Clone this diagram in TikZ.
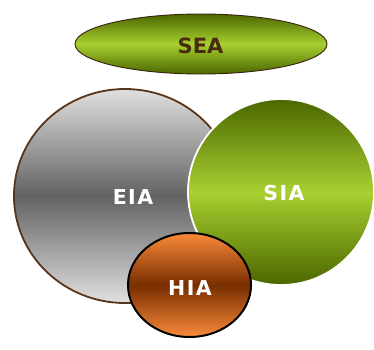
\documentclass[tikz,border=0pt]{standalone}
\usepackage{fontspec}
\setmainfont{DejaVu Sans}
\newfontfamily\spacedfont[LetterSpace=7]{DejaVu Sans}
\usetikzlibrary{shapes.geometric}
\definecolor{oliveD}{HTML}{4B6600}
\definecolor{oliveL}{HTML}{A8D030}
\definecolor{grayL}{HTML}{E0E0E0}
\definecolor{grayD}{HTML}{626262}
\definecolor{orangeL}{HTML}{FA8A3A}
\definecolor{orangeD}{HTML}{782E00}
\definecolor{brownT}{HTML}{4A2A10}
\definecolor{brownO}{HTML}{5A3418}
\tikzset{
  blob/.style={ellipse, inner sep=0pt, text=white},
  lbl/.style={font=\spacedfont\bfseries\fontsize{20.5}{20.5}\selectfont, text=white, inner sep=0pt}
}
\begin{document}
\begin{tikzpicture}[x=1pt,y=-1pt]
\useasboundingbox (0,0) rectangle (374,349);
% SEA
\node[blob, minimum width=252pt, minimum height=60pt, top color=oliveD, bottom color=oliveD, middle color=oliveL, draw=brownT!80!black, line width=0.9pt] (sea) at (201,44) {};
\node[font=\bfseries\fontsize{21}{21}\selectfont, text=brownT, inner sep=0pt] (seat) at (200.5,46) {SEA};
% EIA
\node[blob, minimum width=222pt, minimum height=214pt, top color=grayL, bottom color=grayL, middle color=grayD, draw=brownO, line width=1.8pt] (eia) at (125,196) {};
% SIA
\node[blob, minimum width=186pt, minimum height=186pt, top color=oliveD, bottom color=oliveD, middle color=oliveL, draw=white, line width=1.8pt] (sia) at (281,192) {};
% HIA
\node[blob, minimum width=123pt, minimum height=104pt, top color=orangeL, bottom color=orangeL, middle color=orangeD, draw=black, line width=2pt] (hia) at (189.5,285) {};
\node[lbl] (eiat) at (133,197.5) {EIA};
\node[lbl] (siat) at (284,193.5) {SIA};
\node[lbl] (hiat) at (190,288.5) {HIA};
\end{tikzpicture}
\end{document}
